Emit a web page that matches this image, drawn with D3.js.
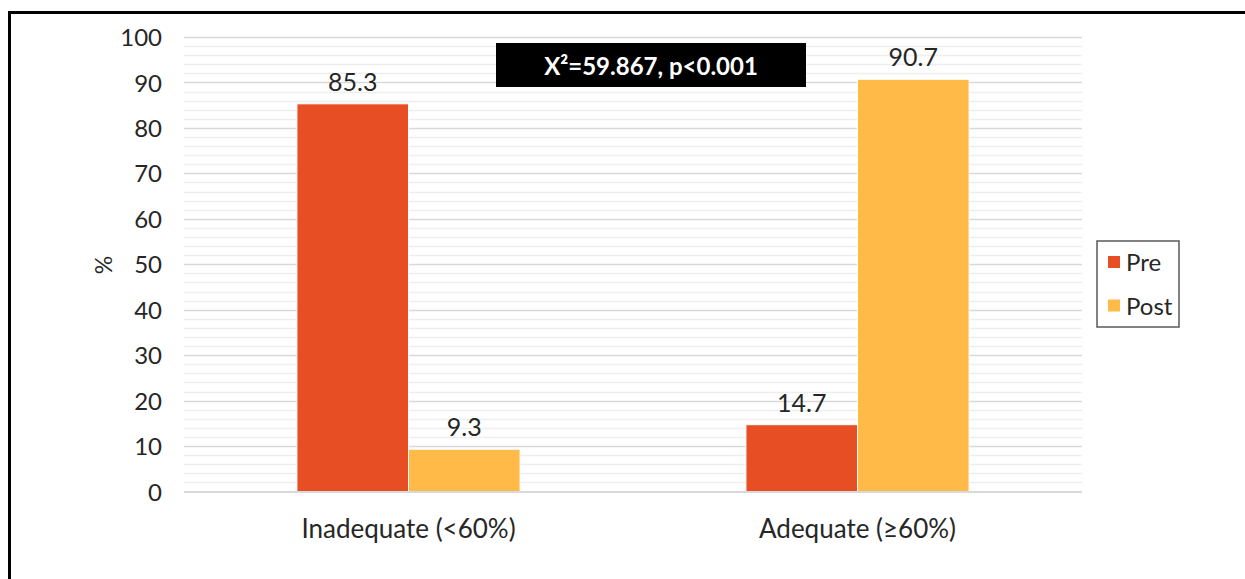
<!DOCTYPE html>
<html>
<head>
<meta charset="utf-8">
<script src="https://cdn.jsdelivr.net/npm/d3@7"></script>
<style>
  html, body { margin: 0; padding: 0; background: #fff; }
  svg { display: block; }
  text { font-family: Lato, "Open Sans", sans-serif; fill: #262626; }
</style>
</head>
<body>
<svg id="chart" width="1245" height="579"></svg>
<script>
// ---- data ----
const categories = ["Inadequate (<60%)", "Adequate (\u226560%)"];
const seriesNames = ["Pre", "Post"];
const preValues = [85.3, 14.7];
const postValues = [9.3, 90.7];
const yTicks = [0, 10, 20, 30, 40, 50, 60, 70, 80, 90, 100];
const annotationText = "X\u00b2=59.867, p<0.001";
const yAxisTitle = "%";

const colors = { Pre: "#E84E23", Post: "#FFBA47" };

const svg = d3.select("#chart");

// outer frame (only top and left visible in the reference)
svg.append("rect").attr("x", 9.5).attr("y", 12.5).attr("width", 1400).attr("height", 800)
  .attr("fill", "none").attr("stroke", "#000").attr("stroke-width", 3);

const plot = { left: 184, right: 1082, top: 37, bottom: 491.5 };

const x0 = d3.scaleBand().domain(categories).range([plot.left, plot.right])
  .paddingInner(0.503).paddingOuter(0.2515);
const x1 = d3.scaleBand().domain(seriesNames).range([0, x0.bandwidth()]).padding(0);
const y = d3.scaleLinear().domain([0, 100]).range([plot.bottom, plot.top]);

// minor gridlines (every 2)
const minor = d3.range(0, 101, 2).filter(v => v % 10 !== 0);
svg.append("g").selectAll("line").data(minor).join("line")
  .attr("x1", plot.left).attr("x2", plot.right)
  .attr("y1", d => Math.round(y(d)) + 0.5).attr("y2", d => Math.round(y(d)) + 0.5)
  .attr("stroke", "#eeeeee").attr("stroke-width", 1.5);

// major gridlines
svg.append("g").selectAll("line").data(yTicks.filter(v => v > 0)).join("line")
  .attr("x1", plot.left).attr("x2", plot.right)
  .attr("y1", d => Math.round(y(d)) + 0.5).attr("y2", d => Math.round(y(d)) + 0.5)
  .attr("stroke", "#d9d9d9").attr("stroke-width", 1.5);

// y axis labels
const yAxis = d3.axisLeft(y).tickValues(yTicks).tickSize(0).tickPadding(22);
const gy = svg.append("g").attr("transform", `translate(${plot.left},0)`).call(yAxis);
gy.select(".domain").remove();
gy.selectAll("text").attr("font-size", 24).attr("fill", "#262626").attr("dy", "0.36em")
  .style("font-family", "Lato, sans-serif");

// y axis title
svg.append("text")
  .attr("transform", `translate(112,265) rotate(-90)`)
  .attr("text-anchor", "middle").attr("font-size", 23)
  .text(yAxisTitle);

// bars
const rows = categories.map((c, i) => ({ cat: c, values: [
  { key: "Pre", value: preValues[i] }, { key: "Post", value: postValues[i] } ] }));

const groups = svg.append("g").selectAll("g").data(rows).join("g")
  .attr("transform", d => `translate(${x0(d.cat)},0)`);

groups.selectAll("rect").data(d => d.values).join("rect")
  .attr("x", d => x1(d.key))
  .attr("width", x1.bandwidth())
  .attr("y", d => y(d.value))
  .attr("height", d => y(0) - y(d.value))
  .attr("fill", d => colors[d.key])
  .attr("stroke", "#fff").attr("stroke-width", 1);

groups.selectAll("text").data(d => d.values).join("text")
  .attr("x", d => x1(d.key) + x1.bandwidth() / 2)
  .attr("y", d => y(d.value) - 13)
  .attr("text-anchor", "middle").attr("font-size", 25)
  .text(d => d.value.toFixed(1));

// x axis baseline
svg.append("line").attr("x1", plot.left).attr("x2", plot.right)
  .attr("y1", plot.bottom + 0.5).attr("y2", plot.bottom + 0.5)
  .attr("stroke", "#d9d9d9").attr("stroke-width", 2);

// x axis labels
const xAxis = d3.axisBottom(x0).tickSize(0);
const gx = svg.append("g").attr("transform", `translate(0,${plot.bottom})`).call(xAxis);
gx.select(".domain").remove();
gx.selectAll("text").attr("font-size", 26).attr("fill", "#262626")
  .attr("y", 46).attr("dy", 0)
  .style("font-family", "Lato, sans-serif");

// annotation box
svg.append("rect").attr("x", 496).attr("y", 43).attr("width", 310).attr("height", 44)
  .attr("fill", "#000");
svg.append("text").attr("x", 651).attr("y", 75).attr("text-anchor", "middle")
  .attr("font-size", 24).attr("font-weight", "bold").style("fill", "#fff")
  .text(annotationText);

// legend
const lg = svg.append("g");
lg.append("rect").attr("x", 1097).attr("y", 241).attr("width", 82).attr("height", 86)
  .attr("fill", "#fff").attr("stroke", "#595959").attr("stroke-width", 1.5);
const li = lg.selectAll("g").data(seriesNames).join("g")
  .attr("transform", (d, i) => `translate(1108,${256 + i * 43.5})`);
li.append("rect").attr("width", 12).attr("height", 12).attr("fill", d => colors[d]);
li.append("text").attr("x", 18).attr("y", 15).attr("font-size", 24).text(d => d);
</script>
</body>
</html>
